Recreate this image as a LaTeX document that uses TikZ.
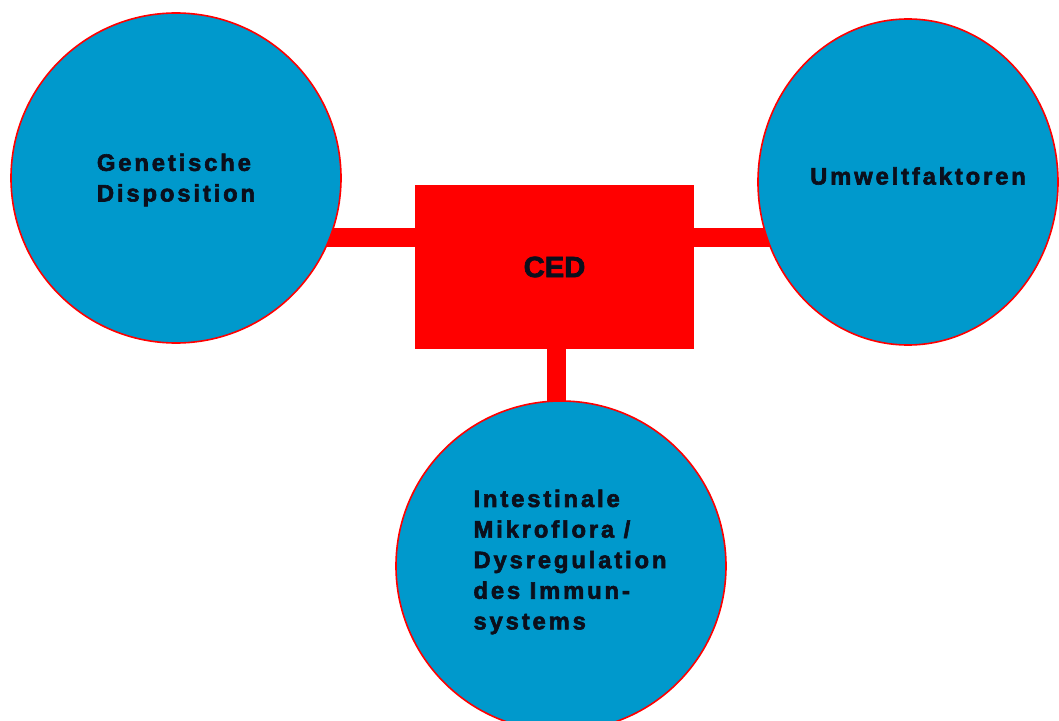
\documentclass[tikz,border=0pt]{standalone}
\usepackage{fontspec}
\setmainfont{Liberation Sans}
\newfontfamily\blobfont[LetterSpace=12,FakeBold=2.5]{Liberation Sans Bold}
\newfontfamily\cedfont[FakeBold=2.5]{Liberation Sans Bold}
\usetikzlibrary{shapes.geometric}
\usetikzlibrary{backgrounds}
\definecolor{cedblue}{HTML}{0099CC}
\definecolor{cedred}{HTML}{FF0000}
\definecolor{cedtext}{HTML}{0B0F1C}

\begin{document}
\begin{tikzpicture}[x=0.5bp,y=-0.5bp,
  blobtext/.style={align=left,text=cedtext,font=\blobfont\fontsize{11.9bp}{15.3bp}\selectfont},
  blob/.style={circle,draw=cedred,line width=0.8bp,fill=cedblue,minimum size=165bp,inner sep=0pt,blobtext},
  bar/.style={cedred,line width=9.5bp}]
  \useasboundingbox (0,0) rectangle (1059,721);
  \node[blob,label={[blobtext,yshift=-1bp]center:Genetische\\Disposition}] (gen) at (176,178) {};
  \node[blob,ellipse,minimum width=150bp,minimum height=163bp,
    label={[blobtext,xshift=5bp,yshift=3bp]center:Umweltfaktoren}] (umw) at (908,182) {};
  \node[blob,label={[blobtext,xshift=4.5bp,yshift=2bp]center:Intestinale\\Mikroflora /\\Dysregulation\\des Immun-\\systems}] (imm) at (561,566) {};
  \node[fill=cedred,minimum width=139.5bp,minimum height=82bp,text=cedtext,
    font=\cedfont\fontsize{14.6bp}{17bp}\selectfont] (ced) at (554.5,267) {CED};
  % connecting bars behind the shapes
  \begin{scope}[on background layer]
    \draw[bar] ([yshift=15bp]ced.west) -- ([yshift=15bp]ced.west -| gen.center);
    \draw[bar] ([yshift=15bp]ced.east) -- ([yshift=15bp]ced.east -| umw.center);
    \draw[bar] ([xshift=1bp]ced.south) -- ([xshift=1bp]ced.south |- imm.center);
  \end{scope}
\end{tikzpicture}
\end{document}
